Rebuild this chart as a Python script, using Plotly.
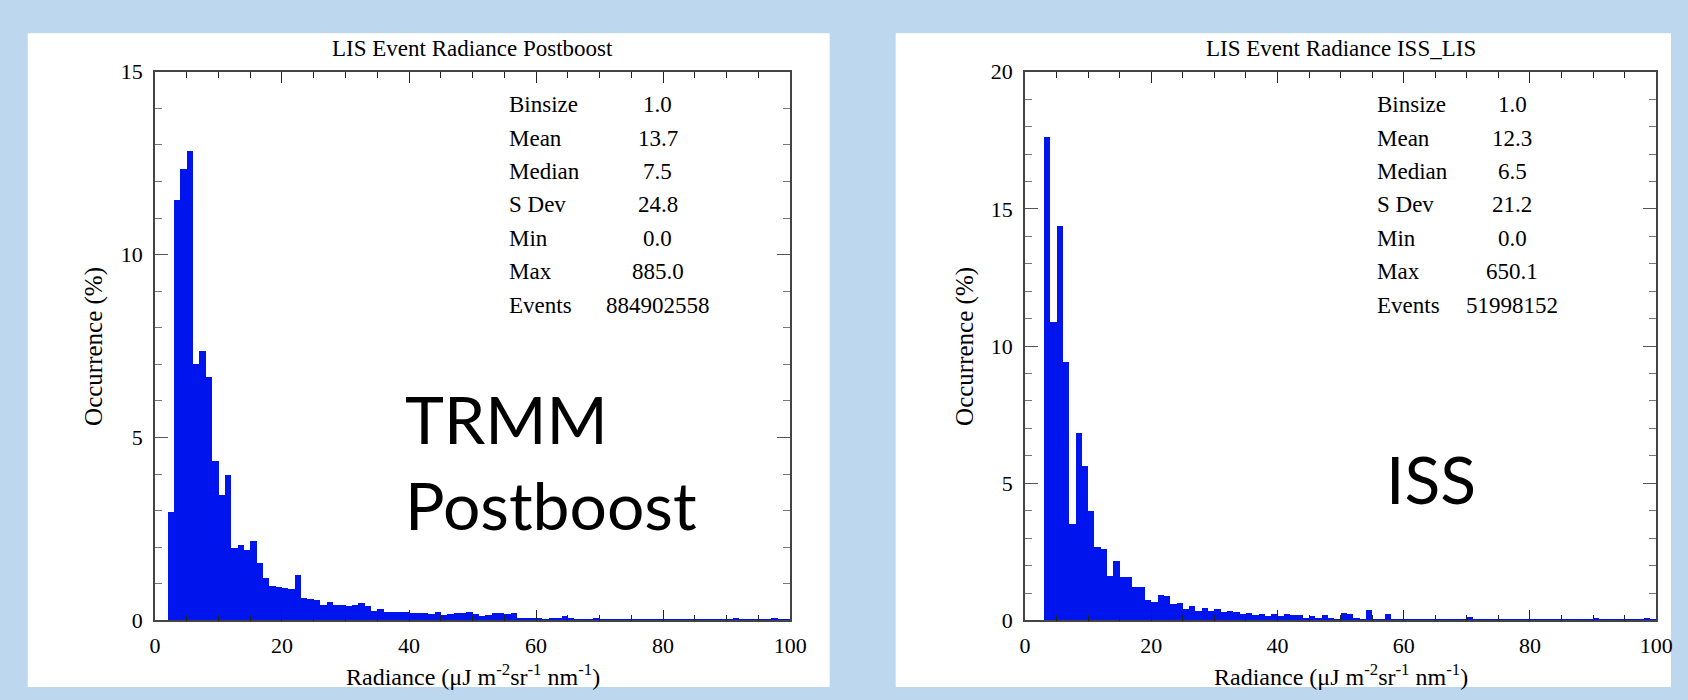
import plotly.graph_objects as go

# ---------------- data ----------------
trmm_bin_start = list(range(2, 100))
trmm_pct = [2.97, 11.49, 12.35, 12.83, 7.01, 7.38, 6.67, 4.37, 3.44, 3.97,
            1.99, 2.06, 1.92, 2.19, 1.59, 1.18, 0.95, 0.91, 0.88, 0.87,
            1.24, 0.63, 0.58, 0.56, 0.44, 0.51, 0.42, 0.42, 0.41, 0.44,
            0.47, 0.41, 0.27, 0.31, 0.24, 0.24, 0.24, 0.24, 0.21, 0.20,
            0.20, 0.18, 0.23, 0.15, 0.17, 0.20, 0.20, 0.25, 0.17, 0.12,
            0.15, 0.20, 0.22, 0.18, 0.22, 0.07, 0.07, 0.07, 0.06, 0.05,
            0.07, 0.07, 0.12, 0.06, 0.05, 0.05, 0.05, 0.06, 0.05, 0.04,
            0.04, 0.03, 0.03, 0.03, 0.03, 0.03, 0.03, 0.03, 0.03, 0.03,
            0.03, 0.03, 0.03, 0.03, 0.03, 0.03, 0.03, 0.03, 0.05, 0.06,
            0.04, 0.03, 0.05, 0.03, 0.04, 0.06, 0.04, 0.03]

iss_bin_start = list(range(3, 100))
iss_pct = [17.63, 10.87, 14.38, 9.43, 3.52, 6.84, 5.65, 3.99, 2.68, 2.63,
           1.64, 2.18, 1.59, 1.59, 1.22, 1.22, 0.74, 0.67, 0.95, 0.89,
           0.60, 0.65, 0.44, 0.55, 0.36, 0.45, 0.37, 0.43, 0.33, 0.36,
           0.31, 0.25, 0.27, 0.19, 0.23, 0.18, 0.23, 0.18, 0.23, 0.19,
           0.21, 0.10, 0.16, 0.10, 0.19, 0.10, 0.07, 0.27, 0.23, 0.08,
           0.06, 0.40, 0.06, 0.05, 0.26, 0.07, 0.04, 0.04, 0.03, 0.04,
           0.03, 0.03, 0.04, 0.03, 0.03, 0.04, 0.03, 0.12, 0.03, 0.03,
           0.03, 0.03, 0.03, 0.03, 0.03, 0.03, 0.03, 0.03, 0.03, 0.03,
           0.03, 0.03, 0.03, 0.03, 0.03, 0.07, 0.05, 0.10, 0.03, 0.03,
           0.03, 0.03, 0.03, 0.03, 0.03, 0.08, 0.04]

stat_labels = ["Binsize", "Mean", "Median", "S Dev", "Min", "Max", "Events"]
trmm_stats = ["1.0", "13.7", "7.5", "24.8", "0.0", "885.0", "884902558"]
iss_stats = ["1.0", "12.3", "6.5", "21.2", "0.0", "650.1", "51998152"]

titles = ["LIS Event Radiance Postboost", "LIS Event Radiance ISS_LIS"]
big_labels = ["TRMM<br>Postboost", "ISS"]
x_tick_vals = [0, 20, 40, 60, 80, 100]
trmm_y_ticks = [0, 5, 10, 15]
iss_y_ticks = [0, 5, 10, 15, 20]

# ---------------- layout constants ----------------
W, H = 1688, 700
BG = "#BDD7EE"
BAR = "#0014EE"
SERIF = "Liberation Serif"
AX = "#444444"

def px(x):
    return x / W

def py(y):
    return 1 - y / H

PLOT_TOP, PLOT_BOT = 62, 631
left_dom = [px(151), px(795)]
right_dom = [px(1033), px(1673)]
ydom = [py(PLOT_BOT), py(PLOT_TOP)]

fig = go.Figure()
fig.add_trace(go.Bar(x=[b + 0.5 for b in trmm_bin_start], y=trmm_pct, width=1,
                     marker=dict(color=BAR, line=dict(width=0)),
                     xaxis="x", yaxis="y", showlegend=False))
fig.add_trace(go.Bar(x=[b + 0.5 for b in iss_bin_start], y=iss_pct, width=1,
                     marker=dict(color=BAR, line=dict(width=0)),
                     xaxis="x2", yaxis="y2", showlegend=False))

def xaxis(dom, anchor):
    return dict(domain=dom, anchor=anchor, range=[0, 100], tickvals=x_tick_vals,
                ticks="inside", ticklen=11, tickwidth=1, tickcolor="#222",
                showline=True, linecolor=AX, linewidth=1.5, mirror="ticks",
                showgrid=False, zeroline=False, ticklabelstandoff=4,
                tickfont=dict(family=SERIF, size=22, color="black"),
                minor=dict(dtick=5, ticks="inside", ticklen=6, tickcolor="#222", showgrid=False))

def yaxis(dom, anchor, rng, tv):
    return dict(domain=dom, anchor=anchor, range=rng, tickvals=tv,
                ticks="inside", ticklen=13, tickwidth=1, tickcolor="#555",
                showline=True, linecolor=AX, linewidth=1.5, mirror="ticks",
                showgrid=False, zeroline=False, ticklabelstandoff=6,
                tickfont=dict(family=SERIF, size=22, color="black"),
                minor=dict(dtick=1, ticks="inside", ticklen=7, tickcolor="#777", showgrid=False))

PANEL_TOP = 22
shapes = [
    dict(type="rect", xref="paper", yref="paper", x0=px(22), x1=px(835), y0=0, y1=py(PANEL_TOP),
         fillcolor="white", line=dict(width=0), layer="below"),
    dict(type="rect", xref="paper", yref="paper", x0=px(902), x1=1, y0=0, y1=py(PANEL_TOP),
         fillcolor="white", line=dict(width=0), layer="below"),
]

ann = []
panels = [
    (left_dom, titles[0], big_labels[0], trmm_stats, 508, 661, 402, 466, 89),
    (right_dom, titles[1], big_labels[1], iss_stats, 1388, 1527, 1397, 484, 972),
]
for dom, title, big, stats, lab_x, val_x, big_x, big_y, ytitle_x in panels:
    cx = (dom[0] + dom[1]) / 2
    ann.append(dict(text=title, x=cx, y=py(38), xref="paper", yref="paper",
                    showarrow=False, xanchor="center", yanchor="middle",
                    font=dict(family=SERIF, size=23, color="black")))
    ann.append(dict(text="Radiance (\u03bcJ m<sup>-2</sup>sr<sup>-1</sup> nm<sup>-1</sup>)",
                    x=cx, y=py(688), xref="paper", yref="paper", showarrow=False,
                    xanchor="center", yanchor="middle",
                    font=dict(family=SERIF, size=24, color="black")))
    ann.append(dict(text="Occurrence (%)", x=px(ytitle_x), y=(ydom[0] + ydom[1]) / 2,
                    xref="paper", yref="paper", showarrow=False, textangle=-90,
                    xanchor="center", yanchor="middle",
                    font=dict(family=SERIF, size=25, color="black")))
    for i, (lab, val) in enumerate(zip(stat_labels, stats)):
        yy = py(96 + i * 34.7)
        ann.append(dict(text=lab, x=px(lab_x), y=yy, xref="paper", yref="paper",
                        showarrow=False, xanchor="left", yanchor="middle",
                        font=dict(family=SERIF, size=23, color="black")))
        ann.append(dict(text=val, x=px(val_x), y=yy, xref="paper", yref="paper",
                        showarrow=False, xanchor="center", yanchor="middle",
                        font=dict(family=SERIF, size=23, color="black")))
    ann.append(dict(text=big, x=px(big_x), y=py(big_y), xref="paper", yref="paper",
                    showarrow=False, xanchor="left", yanchor="middle", align="left",
                    font=dict(family="Lato", size=66, color="black")))

fig.update_layout(
    width=W, height=H, margin=dict(l=0, r=0, t=0, b=0),
    paper_bgcolor=BG, plot_bgcolor="rgba(0,0,0,0)",
    bargap=0,
    xaxis=xaxis(left_dom, "y"), yaxis=yaxis(ydom, "x", [0, 15], trmm_y_ticks),
    xaxis2=xaxis(right_dom, "y2"), yaxis2=yaxis(ydom, "x2", [0, 20], iss_y_ticks),
    shapes=shapes, annotations=ann,
)

fig.write_html("out.html")
